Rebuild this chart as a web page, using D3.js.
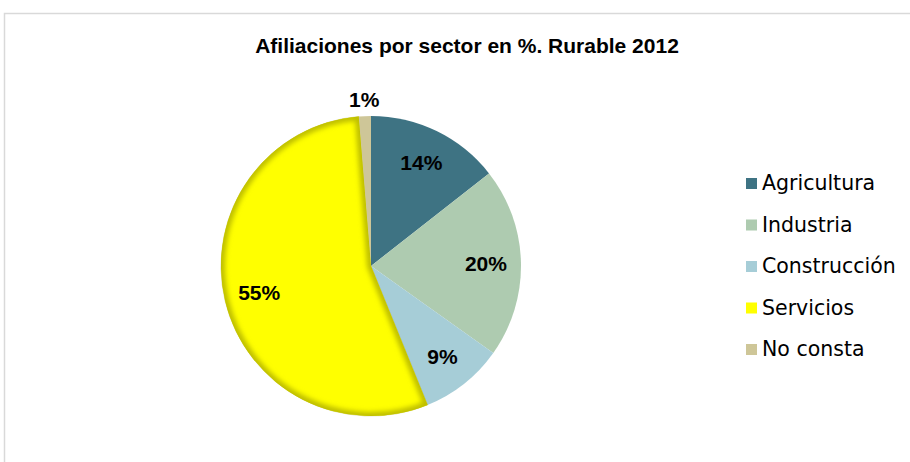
<!DOCTYPE html>
<html><head><meta charset="utf-8">
<script src="https://cdn.jsdelivr.net/npm/d3@7"></script>
<style>body{margin:0;background:#fff}svg{display:block}</style>
</head><body>
<svg id="c" width="910" height="462"></svg>
<script>
const categories = ["Agricultura","Industria","Construcción","Servicios","No consta"];
const values = [14.4, 20.4, 9.0, 54.8, 1.3];
const labels = ["14%","20%","9%","55%","1%"];
const colors = ["#3E7383","#AECBB0","#A6CDD7","#FFFF00","#CEC698"];
const title = "Afiliaciones por sector en %. Rurable 2012";

const svg = d3.select("#c");
const W = 910, H = 462;
svg.append("rect").attr("x",4.5).attr("y",13.5).attr("width",W).attr("height",H)
  .attr("fill","#fff").attr("stroke","#D9D9D9").attr("stroke-width",1.5);

svg.append("text").attr("x",467).attr("y",53).attr("text-anchor","middle")
  .attr("font-family","Liberation Sans, Arial, sans-serif").attr("font-weight","bold")
  .attr("font-size",21).attr("fill","#000").text(title);

const cx = 371, cy = 266, R = 150;
const defs = svg.append("defs");
const blur = defs.append("filter").attr("id","bl").attr("x","-20%").attr("y","-20%").attr("width","140%").attr("height","140%");
blur.append("feGaussianBlur").attr("stdDeviation",2.5);

const pie = d3.pie().sort(null).value(d=>d)(values);
const arc = d3.arc().innerRadius(0).outerRadius(R);
const g = svg.append("g").attr("transform",`translate(${cx},${cy})`);

pie.forEach((p,i)=>{
  const d = arc(p);
  g.append("path").attr("d",d).attr("fill",colors[i]);
  if (categories[i]==="Servicios") {
    const cid = "clip"+i;
    defs.append("clipPath").attr("id",cid).append("path").attr("d",d).attr("transform",`translate(${cx},${cy})`);
    svg.append("g").attr("clip-path",`url(#${cid})`)
      .append("path").attr("d",d).attr("transform",`translate(${cx},${cy})`)
      .attr("fill","none").attr("stroke","#BDBD00").attr("stroke-width",8).attr("filter","url(#bl)");
    g.append("path").attr("d",d).attr("fill","none").attr("stroke","#8A8A00").attr("stroke-width",0.6).attr("stroke-opacity",0.5);
  }
});

const labArc = d3.arc().innerRadius(115).outerRadius(115);
const outArc = d3.arc().innerRadius(167).outerRadius(167);
pie.forEach((p,i)=>{
  const c = (values[i] < 3 ? outArc : labArc).centroid(p);
  g.append("text").attr("x",c[0]).attr("y",c[1]).attr("dy","0.36em")
    .attr("text-anchor","middle")
    .attr("font-family","Liberation Sans, Arial, sans-serif").attr("font-weight","bold")
    .attr("font-size",21).attr("fill","#000").text(labels[i]);
});

const leg = svg.append("g");
const ly = d3.scalePoint().domain(categories).range([183,349]);
categories.forEach((c,i)=>{
  const y = ly(c);
  leg.append("rect").attr("x",746).attr("y",y-5).attr("width",11).attr("height",11).attr("fill",colors[i]);
  leg.append("text").attr("x",762).attr("y",y).attr("dy","0.36em")
    .attr("font-family","DejaVu Sans, Verdana, sans-serif").attr("font-size",20.5).attr("fill","#000").text(c);
});
</script>
</body></html>
